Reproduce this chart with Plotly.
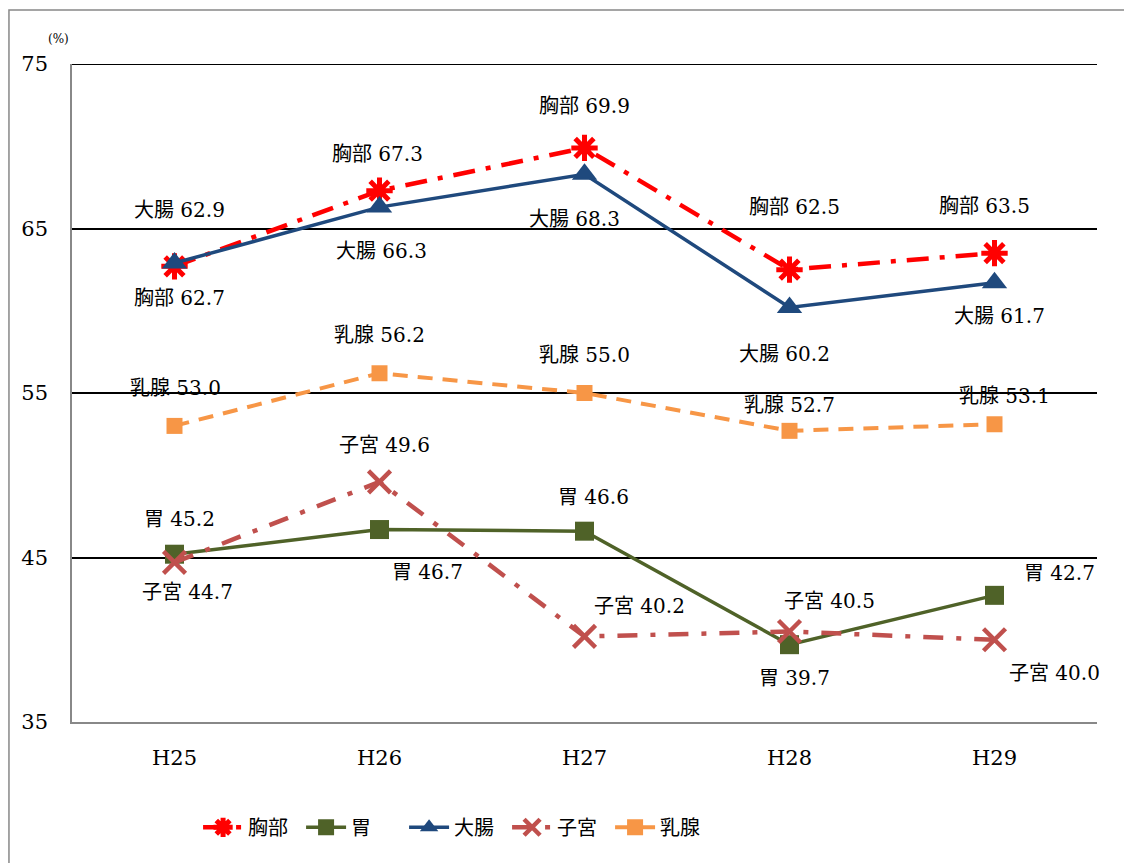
import plotly.graph_objects as go

categories = ["H25", "H26", "H27", "H28", "H29"]
chest = [62.7, 67.3, 69.9, 62.5, 63.5]
stomach = [45.2, 46.7, 46.6, 39.7, 42.7]
colon = [62.9, 66.3, 68.3, 60.2, 61.7]
uterus = [44.7, 49.6, 40.2, 40.5, 40.0]
breast = [53.0, 56.2, 55.0, 52.7, 53.1]
y_ticks = [35, 45, 55, 65, 75]

names = ["胸部", "胃", "大腸", "子宮", "乳腺"]
series = [chest, stomach, colon, uterus, breast]

styles = [
    dict(color="#FF0000", width=4.5, dash="22px,11px,5px,11px", symbol="asterisk-open", size=22, mlw=5),
    dict(color="#4F6228", width=3.5, dash="solid", symbol="square", size=19, mlw=0),
    dict(color="#1F497D", width=3.5, dash="solid", symbol="triangle-up", size=22, mlw=0),
    dict(color="#C0504D", width=4.5, dash="20px,13px,5px,13px", symbol="x-thin-open", size=22, mlw=4.5),
    dict(color="#F79646", width=4, dash="15px,10px", symbol="square", size=16, mlw=0),
]

# label offsets (pixels) per series per category
offsets = [
    [(5, -32), (-2, 37), (0, 42), (5, 63), (-10, 47)],
    [(5, 35), (48, -42), (9, 34), (5, -33), (65, 22)],
    [(5, 53), (2, -44), (-10, -45), (-5, -47), (5, -33)],
    [(13, -30), (5, 37), (55, 30), (40, 31), (60, -33)],
    [(1, 38), (0, 38), (0, 38), (0, 26), (10, 28)],
]

FONT = "DejaVu Serif, Noto Sans CJK JP"

fig = go.Figure()
for name, vals, st in zip(names, series, styles):
    fig.add_trace(go.Scatter(
        x=categories, y=vals, name=name, mode="lines+markers",
        line=dict(color=st["color"], width=st["width"], dash=st["dash"]),
        marker=dict(symbol=st["symbol"], size=st["size"], color=st["color"],
                    line=dict(color=st["color"], width=st["mlw"])),
    ))

annotations = []
for name, vals, offs in zip(names, series, offsets):
    for c, v, (dx, dy) in zip(categories, vals, offs):
        annotations.append(dict(
            x=c, y=v, xref="x", yref="y", text=f"{name} {v:.1f}",
            showarrow=False, xshift=dx, yshift=dy,
            font=dict(family=FONT, size=20, color="#000000"),
        ))

annotations.append(dict(
    x=-0.001, y=1.025, xref="paper", yref="paper", text="(%)", showarrow=False,
    font=dict(family=FONT, size=12, color="#000000"), xanchor="right", yanchor="bottom",
))

fig.update_layout(
    width=1124, height=855,
    margin=dict(l=64, r=35, t=56, b=141),
    paper_bgcolor="white", plot_bgcolor="white",
    font=dict(family=FONT, size=20, color="#000000"),
    showlegend=True,
    legend=dict(orientation="h", x=0.123, y=-0.16, xanchor="left", yanchor="middle",
                font=dict(family=FONT, size=20), itemwidth=40, tracegroupgap=0,
                entrywidth=48, entrywidthmode="pixels"),
    annotations=annotations,
    shapes=[
        dict(type="rect", xref="paper", yref="paper",
             x0=-0.0615, x1=1.032, y0=-0.3, y1=1.082,
             line=dict(color="#888888", width=1.5), layer="below"),
        dict(type="line", xref="paper", yref="y", x0=0, x1=1, y0=75, y1=75,
             line=dict(color="#000000", width=2), layer="below"),
    ],
)

fig.update_xaxes(
    range=[-0.5, 4.5], showline=True, linecolor="#888888", linewidth=1.5,
    showgrid=False, ticks="", ticklabelstandoff=16,
    tickfont=dict(family=FONT, size=21),
)
fig.update_yaxes(
    range=[35, 75], tickvals=y_ticks, showline=True, linecolor="#888888", linewidth=1.5,
    showgrid=True, gridcolor="#000000", gridwidth=2, ticks="", ticklabelstandoff=18,
    tickfont=dict(family=FONT, size=21), zeroline=False,
)

fig.write_html("out.html")
